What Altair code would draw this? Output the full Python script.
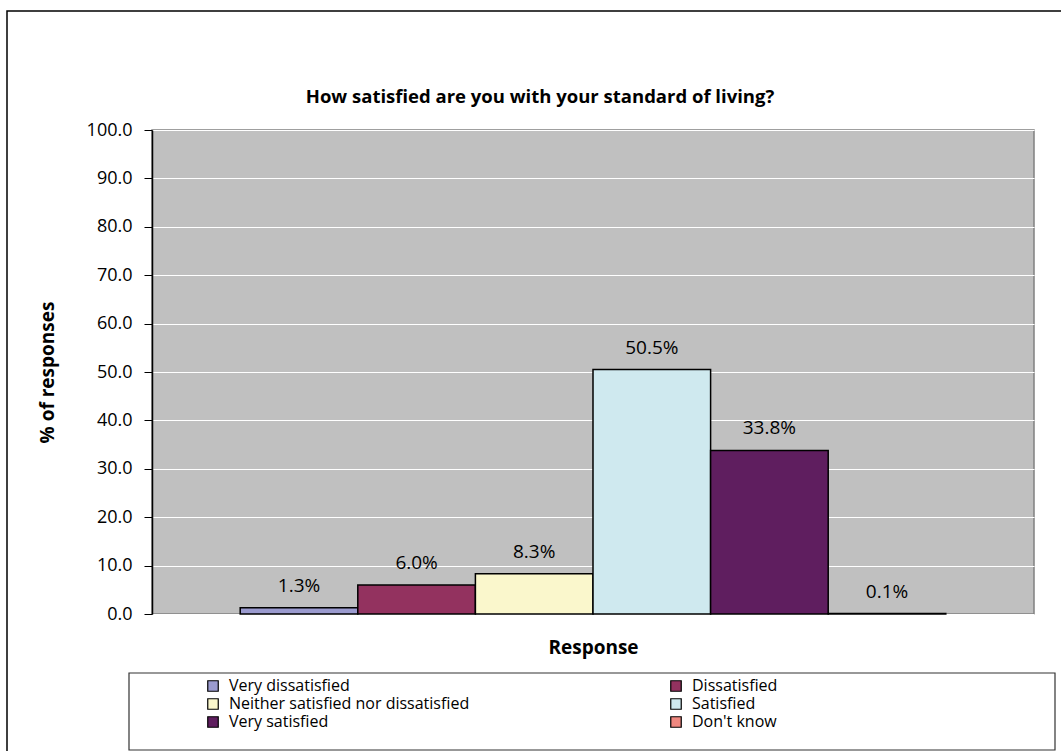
import altair as alt
import pandas as pd

categories = ["Very dissatisfied", "Dissatisfied", "Neither satisfied nor dissatisfied",
              "Satisfied", "Very satisfied", "Don't know"]
values = [1.3, 6.0, 8.3, 50.5, 33.8, 0.1]
labels = ["1.3%", "6.0%", "8.3%", "50.5%", "33.8%", "0.1%"]
colors = ["#9b9bcf", "#93325f", "#faf7cc", "#cfe9ef", "#5f1e5f", "#f08880"]
y_ticks = [0, 10, 20, 30, 40, 50, 60, 70, 80, 90, 100]
title_text = "How satisfied are you with your standard of living?"

FONT = "Open Sans"
W, H = 882, 484
PL, PT = 152, 130

df = pd.DataFrame({"Category": categories, "Value": values, "Label": labels})
one = pd.DataFrame({"t": [title_text]})

x_enc = alt.X("Category:N", sort=categories,
              scale=alt.Scale(paddingInner=0, paddingOuter=0.75),
              axis=alt.Axis(title="Response", labels=False, ticks=False, domain=False,
                            titleFont=FONT, titleFontSize=19, titleFontWeight="bold",
                            titleColor="black", titlePadding=24))

bars = alt.Chart(df).mark_bar(stroke="black", strokeWidth=1.5).encode(
    x=x_enc,
    y=alt.Y("Value:Q", scale=alt.Scale(domain=[0, 100], nice=False),
            axis=alt.Axis(title="% of responses", values=y_ticks, format=".1f",
                          grid=True, gridColor="white", gridWidth=1.2,
                          domainColor="black", domainWidth=1.5,
                          tickColor="black", tickSize=8, tickWidth=1,
                          labelFont=FONT, labelFontSize=18, labelColor="black",
                          labelPadding=12,
                          titleFont=FONT, titleFontSize=19, titleFontWeight="bold",
                          titleColor="black", titlePadding=29)),
    color=alt.Color("Category:N", sort=categories,
                    scale=alt.Scale(domain=categories, range=colors),
                    legend=alt.Legend(title=None, orient="none", legendX=53, legendY=548,
                                      direction="horizontal",
                                      columns=2, columnPadding=198, rowPadding=2,
                                      symbolType="square", symbolSize=110,
                                      symbolStrokeColor="black", symbolStrokeWidth=1.2,
                                      labelFont=FONT, labelFontSize=16, labelColor="black",
                                      labelOffset=8, labelLimit=400)),
)

text = alt.Chart(df).mark_text(font=FONT, fontSize=19, color="black",
                               baseline="middle", dy=-22).encode(
    x=alt.X("Category:N", sort=categories),
    y=alt.Y("Value:Q"),
    text="Label:N",
)

title = alt.Chart(one).mark_text(font=FONT, fontSize=18.5, fontWeight="bold", color="black",
                                 baseline="middle", align="center").encode(
    x=alt.value(540 - PL), y=alt.value(97 - PT), text="t:N",
)

frame = alt.Chart(one).mark_rect(fill=None, stroke="black", strokeWidth=1.5).encode(
    x=alt.value(7 - PL), x2=alt.value(1075 - PL),
    y=alt.value(11 - PT), y2=alt.value(770 - PT),
)

legend_box = alt.Chart(one).mark_rect(fill="white", stroke="#333333", strokeWidth=1.2).encode(
    x=alt.value(129 - PL), x2=alt.value(1055 - PL),
    y=alt.value(673 - PT), y2=alt.value(750 - PT),
)

chart = alt.layer(frame, legend_box, bars, text, title).properties(
    width=W, height=H,
    padding={"left": PL, "top": PT, "right": 1061 - PL - W, "bottom": 751 - PT - H},
    autosize=alt.AutoSizeParams(type="none"),
    background="white",
).configure_view(fill="#c0c0c0", stroke="#808080", strokeWidth=1.5)

chart.save("out.html", embed_options={"renderer": "svg", "actions": False})
